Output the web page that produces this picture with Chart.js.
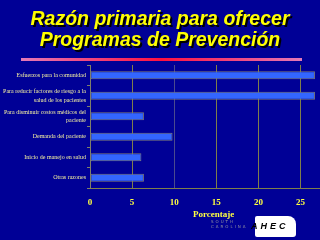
<!DOCTYPE html>
<html>
<head>
<meta charset="utf-8">
<script src="https://cdn.jsdelivr.net/npm/chart.js@4.4.1/dist/chart.umd.min.js"></script>
<style>
  html, body { margin: 0; padding: 0; background: #000096; }
  #wrap { position: relative; width: 320px; height: 240px; overflow: hidden; background: #000096; }
  #title {
    position: absolute; left: 0; top: 8px; width: 320px; text-align: center;
    font-family: "Liberation Sans", Arial, sans-serif; font-weight: bold; font-style: italic;
    font-size: 19.5px; line-height: 21px; color: #ffff00; text-shadow: 2px 2px 0 #000;
  }
  #rule {
    position: absolute; left: 21px; top: 58px; width: 281px; height: 3px;
    background: linear-gradient(to right, #e47ab8, #ff1040 50%, #e47ab8);
  }
  #xtitle {
    position: absolute; left: 193px; top: 209px;
    font-family: "Liberation Serif", "Times New Roman", serif; font-weight: bold;
    font-size: 9px; color: #ffff40;
  }
  #sc { position: absolute; left: 211px; top: 219px; font-family: "DejaVu Sans", sans-serif;
    font-size: 4px; line-height: 5px; letter-spacing: 2px; color: #9090a0; }
  #logo {
    position: absolute; left: 255px; top: 216px; width: 41px; height: 21px;
    background: #fff; border-radius: 2px 8px 3px 2px;
  }
  #logoText { position: absolute; left: 251px; top: 221px; font-family: "Liberation Sans", Arial, sans-serif;
    font-weight: bold; font-style: italic; font-size: 9px; letter-spacing: 3px; color: #000; }
  canvas { position: absolute; left: 0; top: 0; }
</style>
</head>
<body>
<div id="wrap">
  <canvas id="reasonsChart" width="320" height="240"></canvas>
  <div id="title">Razón primaria para ofrecer<br>Programas de Prevención</div>
  <div id="rule"></div>
  <div id="xtitle">Porcentaje</div>
  <div id="sc">SOUTH<br>CAROLINA</div>
  <div id="logo"></div>
  <div id="logoText">AHEC</div>
</div>
<script>
// ---------------- Data ----------------
const reasons = [
    "Esfuerzos para la comunidad",
    ["Para reducir factores de riesgo a la", "salud de los pacientes"],
    ["Para disminuir costos médicos del", "paciente"],
    "Demanda del paciente",
    "Inicio de manejo en salud",
    "Otras razones"
];
const percents = [26.7, 26.7, 6.4, 9.8, 6.1, 6.4];
const xTicks = [0, 5, 10, 15, 20, 25];

// ---------------- Chart ----------------
const ctx = document.getElementById('reasonsChart').getContext('2d');
new Chart(ctx, {
    type: 'bar',
    data: {
        labels: reasons,
        datasets: [{
            data: percents,
            backgroundColor: '#3366ff',
            borderColor: '#7a7a7a',
            borderWidth: 1,
            borderSkipped: false,
            barPercentage: 0.4,
            categoryPercentage: 1
        }]
    },
    options: {
        indexAxis: 'y',
        responsive: false,
        animation: false,
        layout: { padding: { top: 65, right: 0, bottom: 0, left: 0 } },
        plugins: { legend: { display: false }, tooltip: { enabled: false } },
        scales: {
            x: {
                min: 0,
                max: 27.3,
                afterBuildTicks: scale => { scale.ticks = xTicks.map(v => ({ value: v })); },
                afterFit: scale => { scale.height = 52; },
                grid: {
                    color: c => c.index === 2 ? '#4a4a8e' : '#7f7f4a',
                    lineWidth: 1,
                    drawTicks: false
                },
                border: { color: '#7f7f4a' },
                ticks: {
                    color: '#ffff40',
                    padding: 9,
                    font: { family: "'Liberation Serif', 'Times New Roman', serif", size: 9, weight: 'bold' }
                }
            },
            y: {
                afterFit: scale => { scale.width = 90; },
                grid: { drawOnChartArea: false, drawTicks: true, tickLength: 3, color: '#7f7f6a' },
                border: { color: '#7f7f6a' },
                ticks: {
                    color: '#f4f0a0',
                    padding: 1,
                    font: { family: "'Liberation Serif', 'Times New Roman', serif", size: 6, lineHeight: 1.4 }
                }
            }
        }
    }
});
</script>
</body>
</html>
